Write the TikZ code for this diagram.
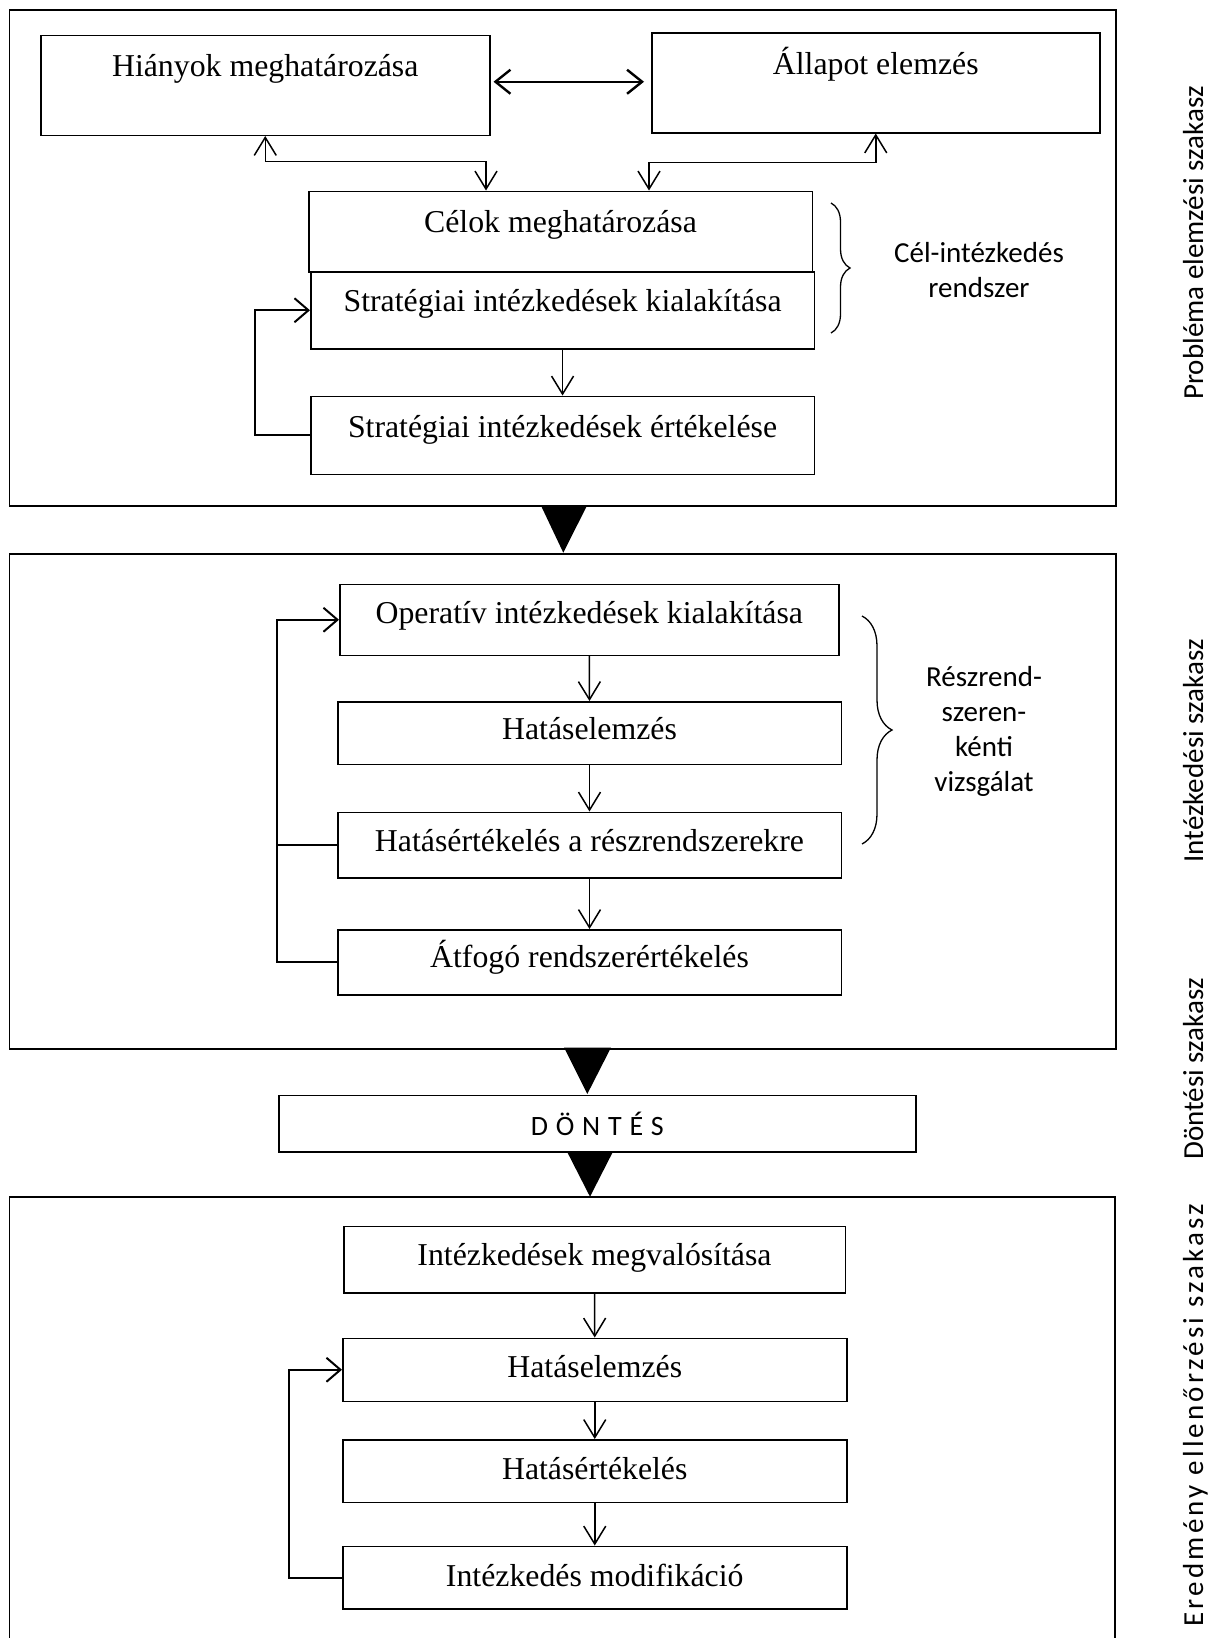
\documentclass[tikz,border=0pt]{standalone}
\usepackage{fontspec}
\setmainfont{Liberation Serif}
\newfontfamily\lblfont{Carlito}
\newfontfamily\widelblfont[LetterSpace=11]{Carlito}
\newfontfamily\spacedfont[LetterSpace=28]{Carlito}
\usetikzlibrary{arrows.meta,decorations.pathreplacing,calc}

\tikzset{
  frame/.style={draw, line width=1.5pt, inner sep=0pt, anchor=north west},
  stepbox/.style={draw, line width=1.5pt, inner xsep=0pt, inner ysep=0pt,
    anchor=north west, font=\fontsize{31.8}{38}\selectfont},
  sidetext/.style={font=\lblfont\fontsize{29}{35}\selectfont, align=center},
  phase/.style={font=\lblfont\fontsize{29}{35}\selectfont, rotate=90, anchor=base},
  arr/.style={line width=1.5pt, -{Straight Barb[length=18pt,width=22pt]}},
  twoway/.style={line width=1.5pt,
    {Straight Barb[length=18pt,width=22pt]}-{Straight Barb[length=18pt,width=22pt]}},
  loopline/.style={line width=2pt},
  looparr/.style={line width=2pt, -{Straight Barb[length=14pt,width=24pt]}},
  curly/.style={line width=1.3pt, decorate, decoration={brace, amplitude=#1}},
}

\begin{document}
\begin{tikzpicture}[x=1pt, y=-1pt]
\fill[white] (0,0) rectangle (1223,1638);
\useasboundingbox (0,0) rectangle (1223,1638);

% ---------- phase frames ----------
\node[frame, minimum width=1106.5pt, minimum height=496pt] (frameA) at (8.5,9) {};
\node[frame, minimum width=1106.5pt, minimum height=495pt] (frameB) at (8.5,553) {};
\draw[line width=1.5pt] (9.5,1638) -- (9.5,1197) -- (1115,1197) -- (1115,1638);

% ---------- phase transitions ----------
\fill (540.7,505) -- (587.3,505) -- (563.3,552.7) -- cycle;
\fill (564,1047.5) -- (611,1047.5) -- (587.3,1094) -- cycle;
\fill (566.7,1151) -- (613.3,1151) -- (590,1196.7) -- cycle;

% ---------- problem analysis ----------
\node[stepbox, minimum width=449pt, text height=41.5pt, text depth=58.5pt] (hiany) at (40,34.5) {Hiányok meghatározása};
\node[stepbox, minimum width=448pt, text height=41.4pt, text depth=58.6pt] (allapot) at (651,32) {Állapot elemzés};
\node[stepbox, minimum width=503.5pt, text height=41pt, text depth=39.5pt] (celok) at (308,190.5) {Célok meghatározása};
\node[stepbox, minimum width=503.6pt, text height=40pt, text depth=37pt] (kial) at (310,271) {Stratégiai intézkedések kialakítása};
\node[stepbox, minimum width=503.6pt, text height=41pt, text depth=37pt] (ertek) at (310,395.5) {Stratégiai intézkedések értékelése};

\coordinate (jL) at (486,161.5);
\coordinate (jR) at (649,162.5);

\draw[line width=2.4pt, {Straight Barb[length=15pt,width=24pt]}-{Straight Barb[length=15pt,width=24pt]},
      shorten <=3pt, shorten >=7pt]
  ([yshift=3.5pt]hiany.east) -- ([yshift=3.5pt]hiany.east -| allapot.west);
\draw[twoway] (hiany.south) |- (jL) -- (jL |- celok.north);
\draw[twoway] (allapot.south) |- (jR) -- (jR |- celok.north);
\draw[arr] (kial.south) -- (ertek.north);
\draw[looparr] (ertek.west) -- ++(-55,0) |- (kial.west);

\draw[curly=19pt] (831,203) -- (831,333);
\node[sidetext] (celrsz) at (979,270) {Cél-intézkedés\\rendszer};

% ---------- measure design ----------
\node[stepbox, minimum width=499pt, text height=39.5pt, text depth=31.5pt] (oper) at (339,583.5) {Operatív intézkedések kialakítása};
\node[stepbox, minimum width=503.5pt, text height=37.7pt, text depth=24.8pt] (hatasA) at (337,701) {Hatáselemzés};
\node[stepbox, minimum width=503.5pt, text height=38.8pt, text depth=26.7pt] (hertA) at (337,811.5) {Hatásértékelés a részrendszerekre};
\node[stepbox, minimum width=503.5pt, text height=37.5pt, text depth=27.5pt] (atfogo) at (337,929) {Átfogó rendszerértékelés};

\draw[arr] (oper.south) -- (hatasA.north);
\draw[arr] (hatasA.south) -- (hertA.north);
\draw[arr] (hertA.south) -- (atfogo.north);
\draw[looparr] (atfogo.west) -- ++(-60,0) coordinate (lpB) |- (oper.west);
\draw[loopline] (hertA.west) -- (hertA.west -| lpB);

\draw[curly=30pt] (862,616) -- (862,844);
\node[sidetext] (rszvizsg) at (984,731) {Részrend-\\szeren-\\kénti\\vizsgálat};

% ---------- decision ----------
\node[stepbox, minimum width=637pt, minimum height=56.5pt, anchor=north west,
      font=\spacedfont\fontsize{28}{32}\selectfont] (dontes) at (278,1094.5) {DÖNTÉS};

% ---------- result check ----------
\node[stepbox, minimum width=501.5pt, text height=39pt, text depth=27.5pt] (megval) at (343,1225.5) {Intézkedések megvalósítása};
\node[stepbox, minimum width=504pt, text height=39.4pt, text depth=23.6pt] (hatasB) at (342,1337.5) {Hatáselemzés};
\node[stepbox, minimum width=504pt, text height=39.4pt, text depth=23.1pt] (hertB) at (342,1439) {Hatásértékelés};
\node[stepbox, minimum width=504pt, text height=40pt, text depth=22.5pt] (modif) at (342,1545.5) {Intézkedés modifikáció};

\draw[arr] (megval.south) -- (hatasB.north);
\draw[arr] (hatasB.south) -- (hertB.north);
\draw[arr] (hertB.south) -- (modif.north);
\draw[looparr] (modif.west) -- ++(-53.5,0) |- (hatasB.west);

% ---------- phase names ----------
\node[phase] (ph1) at (1203,243) {Probléma elemzési szakasz};
\node[phase] (ph2) at (1203,751) {Intézkedési szakasz};
\node[phase] (ph3) at (1203,1069) {Döntési szakasz};
\node[phase, font=\widelblfont\fontsize{29}{35}\selectfont] (ph4) at (1203,1415) {Eredmény ellenőrzési szakasz};
\end{tikzpicture}
\end{document}
